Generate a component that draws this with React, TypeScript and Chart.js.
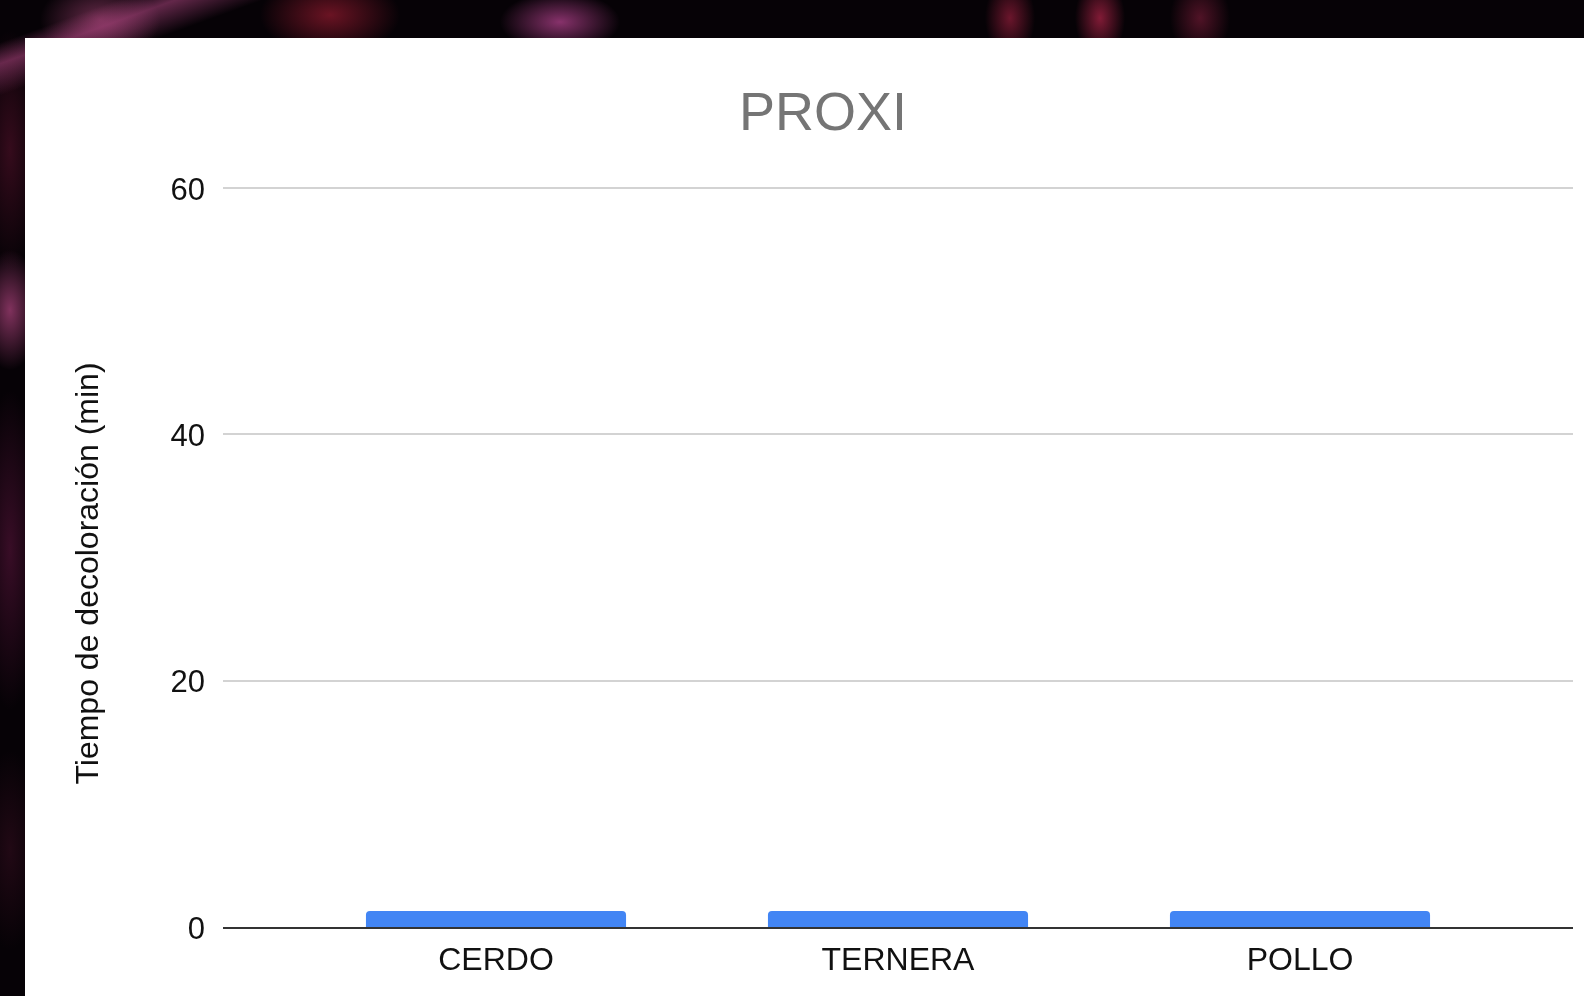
import React, { useEffect, useRef } from 'react';
import { Chart, registerables } from 'chart.js';

Chart.register(...registerables);

const chartTitle = 'PROXI';
const yAxisTitle = 'Tiempo de decoloración (min)';
const categories = ['CERDO', 'TERNERA', 'POLLO'];
const values = [1.3, 1.3, 1.3];
const yMin = 0;
const yMax = 60;
const yStep = 20;

const FONT = '"Liberation Sans", Arial, Helvetica, sans-serif';

const extGridPlugin = {
  id: 'extGrid',
  beforeDatasetsDraw(chart: any) {
    const y = chart.scales.y;
    const ca = chart.chartArea;
    const ctx = chart.ctx;
    ctx.save();
    ctx.strokeStyle = '#d3d3d3';
    ctx.lineWidth = 2;
    y.ticks.forEach((t: any) => {
      if (t.value === 0) return;
      const py = Math.round(y.getPixelForValue(t.value));
      ctx.beginPath();
      ctx.moveTo(ca.left - 72, py);
      ctx.lineTo(ca.right + 72, py);
      ctx.stroke();
    });
    ctx.restore();
  },
  afterDatasetsDraw(chart: any) {
    const y = chart.scales.y;
    const ca = chart.chartArea;
    const ctx = chart.ctx;
    ctx.save();
    ctx.strokeStyle = '#333333';
    ctx.lineWidth = 2;
    const py = Math.round(y.getPixelForValue(0)) + 1;
    ctx.beginPath();
    ctx.moveTo(ca.left - 72, py);
    ctx.lineTo(ca.right + 72, py);
    ctx.stroke();
    ctx.restore();
  },
  afterDraw(chart: any) {
    const ctx = chart.ctx;
    const ca = chart.chartArea;
    ctx.save();
    ctx.translate(64, (ca.top + ca.bottom) / 2 + 16);
    ctx.rotate(-Math.PI / 2);
    ctx.fillStyle = '#111111';
    ctx.font = `32px ${FONT}`;
    ctx.textAlign = 'center';
    ctx.textBaseline = 'middle';
    ctx.fillText(yAxisTitle, 0, 0);
    ctx.restore();
  },
};

export default function App() {
  const ref = useRef<HTMLCanvasElement>(null);

  useEffect(() => {
    if (!ref.current) return;
    const chart = new Chart(ref.current, {
      type: 'bar',
      data: {
        labels: categories,
        datasets: [
          {
            data: values,
            backgroundColor: '#4285F4',
            borderRadius: 4,
            barPercentage: 0.647,
            categoryPercentage: 1,
          },
        ],
      },
      options: {
        responsive: false,
        animation: false,
        devicePixelRatio: 1,
        layout: { padding: { left: 120, right: 83, top: 0, bottom: 0 } },
        plugins: {
          legend: { display: false },
          tooltip: { enabled: false },
          title: {
            display: true,
            text: chartTitle,
            color: '#757575',
            font: { family: FONT, size: 54, weight: 'normal' as any },
            padding: { top: 45, bottom: 40.2 },
          },
        },
        scales: {
          x: {
            grid: { display: false },
            border: { display: false },
            ticks: { color: '#111111', font: { family: FONT, size: 32 }, padding: 7 },
            afterFit: (s: any) => {
              s.height = 69;
            },
          },
          y: {
            min: yMin,
            max: yMax,
            grid: { display: false, drawTicks: false },
            border: { display: false },
            ticks: {
              stepSize: yStep,
              color: '#111111',
              font: { family: FONT, size: 31 },
              padding: 90,
              labelOffset: 3,
            },
            afterFit: (s: any) => {
              s.width = 150;
              s.paddingTop = 0;
              s.paddingBottom = 0;
            },
          },
        },
      },
      plugins: [extGridPlugin],
    });
    return () => chart.destroy();
  }, []);

  const bg = [
    'linear-gradient(160deg, rgba(0,0,0,0) 0px, rgba(0,0,0,0) 40px, rgba(176,70,130,0.55) 60px, rgba(0,0,0,0) 90px)',
    'radial-gradient(ellipse 70px 40px at 330px 15px, rgba(140,25,45,0.75), rgba(0,0,0,0))',
    'radial-gradient(ellipse 60px 30px at 560px 22px, rgba(190,70,150,0.7), rgba(0,0,0,0))',
    'radial-gradient(ellipse 25px 40px at 1010px 18px, rgba(150,30,60,0.7), rgba(0,0,0,0))',
    'radial-gradient(ellipse 25px 40px at 1100px 18px, rgba(170,35,70,0.75), rgba(0,0,0,0))',
    'radial-gradient(ellipse 30px 40px at 1200px 18px, rgba(130,30,60,0.6), rgba(0,0,0,0))',
    'radial-gradient(ellipse 60px 40px at 100px 20px, rgba(170,70,120,0.6), rgba(0,0,0,0))',
    'radial-gradient(ellipse 30px 60px at 10px 310px, rgba(180,70,130,0.7), rgba(0,0,0,0))',
    'radial-gradient(ellipse 30px 160px at 10px 550px, rgba(90,20,60,0.6), rgba(0,0,0,0))',
    'radial-gradient(ellipse 30px 120px at 10px 150px, rgba(100,20,50,0.5), rgba(0,0,0,0))',
    'radial-gradient(ellipse 30px 100px at 10px 850px, rgba(60,15,35,0.5), rgba(0,0,0,0))',
  ].join(', ');

  return (
    <div
      style={{
        position: 'fixed',
        left: 0,
        top: 0,
        width: 1584,
        height: 996,
        overflow: 'hidden',
        backgroundColor: '#060206',
        backgroundImage: bg,
      }}
    >
      <div
        style={{
          position: 'absolute',
          left: 25,
          top: 38,
          width: 1559,
          height: 958,
          background: '#ffffff',
        }}
      >
        <canvas ref={ref} width={1559} height={958} style={{ display: 'block', width: 1559, height: 958 }} />
      </div>
    </div>
  );
}
